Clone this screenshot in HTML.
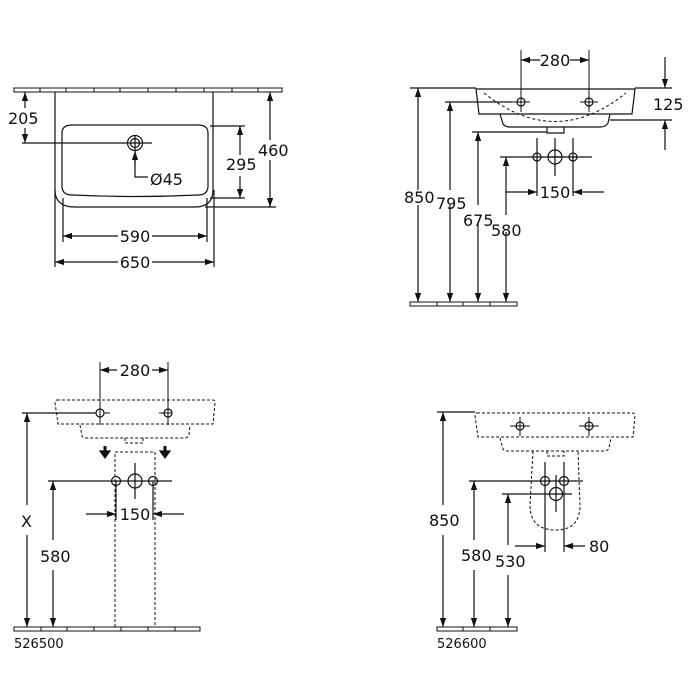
<!DOCTYPE html>
<html><head><meta charset="utf-8"><style>
html,body{margin:0;padding:0;background:#fff;width:700px;height:700px;overflow:hidden}
svg{display:block}
text{font-family:"DejaVu Sans","Liberation Sans",sans-serif;font-size:16px;fill:#111}
</style></head><body>
<svg width="700" height="700" viewBox="0 0 700 700" xmlns="http://www.w3.org/2000/svg">
<defs>
<marker id="a" viewBox="0 0 10 10" refX="10" refY="5" markerWidth="9" markerHeight="9" markerUnits="userSpaceOnUse" orient="auto-start-reverse"><path d="M0,1.5 L10,5 L0,8.5 z" fill="#111"/></marker>
</defs>
<g stroke="#111" stroke-width="1.2" fill="none">
<!-- ===== TOP LEFT ===== -->
<g stroke-width="1">
<rect x="14" y="88" width="268" height="4"/>
<path d="M40 88v4M66 88v4M94 88v4M120 88v4M148 88v4M176 88v4M204 88v4M232 88v4M258 88v4"/>
</g>
<path d="M55 92 V190 Q55 207 75 207 H195 Q213 207 213 190 V92"/>
<path d="M62 133 Q62 125 72 125 H198 Q208 125 208 133 V186 Q208 195 198 195 Q135 198 72 195 Q62 195 62 186 Z"/>
<circle cx="135" cy="143" r="7.5"/><circle cx="135" cy="143" r="4.5"/>
<path d="M22 143 H152 M135 136 V150"/>
<line x1="25" y1="108" x2="25" y2="92" marker-end="url(#a)"/>
<line x1="25" y1="128" x2="25" y2="143" marker-end="url(#a)"/>
<path d="M135 152 V177 H148"/><line x1="135" y1="165" x2="135" y2="151" marker-end="url(#a)"/>
<path d="M210 126 H245 M210 198 H245 M205 207 H276"/>
<line x1="240" y1="155" x2="240" y2="126" marker-end="url(#a)"/>
<line x1="240" y1="176" x2="240" y2="198" marker-end="url(#a)"/>
<line x1="270" y1="140" x2="270" y2="92" marker-end="url(#a)"/>
<line x1="270" y1="160" x2="270" y2="207" marker-end="url(#a)"/>
<path d="M63 198 V242 M207 198 V242 M55 190 V267 M214 190 V267"/>
<line x1="118" y1="236" x2="63" y2="236" marker-end="url(#a)"/>
<line x1="152" y1="236" x2="207" y2="236" marker-end="url(#a)"/>
<line x1="118" y1="262" x2="55" y2="262" marker-end="url(#a)"/>
<line x1="152" y1="262" x2="214" y2="262" marker-end="url(#a)"/>

<!-- ===== TOP RIGHT ===== -->
<g stroke-width="1">
<rect x="410" y="302" width="107" height="4"/>
<path d="M437 302v4M463 302v4M490 302v4"/>
</g>
<path d="M476 89 H635 L632 114 H479 Z"/>
<path d="M500 114 L503 124 Q505 127 510 127 H600 Q606 127 608 123 L610 114"/>
<path d="M547 127 V133 H564 V127"/>
<path d="M484 93 Q555 150 626 93" stroke-dasharray="3,2.5" stroke-width="1"/>
<circle cx="521" cy="102" r="4"/><circle cx="589" cy="102" r="4"/>
<path d="M512 102 H530 M580 102 H598 M521 50 V112 M589 50 V112" stroke-width="1"/>
<line x1="540" y1="60" x2="521" y2="60" marker-end="url(#a)"/>
<line x1="570" y1="60" x2="589" y2="60" marker-end="url(#a)"/>
<path d="M410 88 H476 M635 88 H672 M610 120 H672 M445 102 H512 M472 132 H547 M500 157 H592"/>
<line x1="665" y1="57" x2="665" y2="88" marker-end="url(#a)"/>
<line x1="665" y1="150" x2="665" y2="120" marker-end="url(#a)"/>
<line x1="418" y1="190" x2="418" y2="88" marker-end="url(#a)"/>
<line x1="418" y1="205" x2="418" y2="302" marker-end="url(#a)"/>
<line x1="450" y1="190" x2="450" y2="102" marker-end="url(#a)"/>
<line x1="450" y1="205" x2="450" y2="302" marker-end="url(#a)"/>
<line x1="478" y1="205" x2="478" y2="132" marker-end="url(#a)"/>
<line x1="478" y1="222" x2="478" y2="302" marker-end="url(#a)"/>
<line x1="506" y1="215" x2="506" y2="157" marker-end="url(#a)"/>
<line x1="506" y1="232" x2="506" y2="302" marker-end="url(#a)"/>
<circle cx="537" cy="157" r="4"/><circle cx="573" cy="157" r="4"/><circle cx="555" cy="157" r="7"/>
<path d="M555 138 V176 M549 157 H561 M537 138 V196 M573 138 V196"/>
<line x1="506" y1="192" x2="537" y2="192" marker-end="url(#a)"/>
<line x1="604" y1="192" x2="573" y2="192" marker-end="url(#a)"/>

<!-- ===== BOTTOM LEFT ===== -->
<g stroke-width="1">
<rect x="14" y="627" width="186" height="4"/>
<path d="M41 627v4M67 627v4M94 627v4M121 627v4M148 627v4M175 627v4"/>
</g>
<g stroke-dasharray="3,2" stroke-width="1">
<path d="M57 400 H213 Q215 400 215 403 L213 424 H58 L55 403 Q55 400 57 400 Z"/>
<path d="M80 425 L82 436 Q83 438 87 438 H184 Q188 438 189 435 L190 425"/>
<path d="M125 438 V443 H143 V438"/>
<path d="M115 627 V452 H155 V627"/>
</g>
<circle cx="100" cy="413" r="4"/><circle cx="168" cy="413" r="4"/>
<path d="M100 362 V425 M168 362 V425 M104 413 H110 M159 413 H172" stroke-width="1"/>
<line x1="117" y1="370" x2="100" y2="370" marker-end="url(#a)"/>
<line x1="152" y1="370" x2="168" y2="370" marker-end="url(#a)"/>
<path d="M22 413 H96"/>
<line x1="27" y1="505" x2="27" y2="413" marker-end="url(#a)"/>
<line x1="27" y1="535" x2="27" y2="627" marker-end="url(#a)"/>
<path d="M105 446 V451 M165 446 V451" stroke-width="3"/>
<path d="M100 451 L105 458 L110 451 Z M160 451 L165 458 L170 451 Z" fill="#111"/>
<circle cx="116" cy="481" r="4.5"/><circle cx="153" cy="481" r="4.5"/><circle cx="135" cy="481" r="7"/>
<path d="M48 481 H172 M135 463 V499 M116 481 V520 M153 481 V520"/>
<line x1="53" y1="540" x2="53" y2="481" marker-end="url(#a)"/>
<line x1="53" y1="570" x2="53" y2="627" marker-end="url(#a)"/>
<line x1="86" y1="514" x2="116" y2="514" marker-end="url(#a)"/>
<line x1="184" y1="514" x2="153" y2="514" marker-end="url(#a)"/>

<!-- ===== BOTTOM RIGHT ===== -->
<g stroke-width="1">
<rect x="437" y="627" width="80" height="4"/>
<path d="M463 627v4M490 627v4"/>
</g>
<g stroke-dasharray="3,2" stroke-width="1">
<path d="M477 413 H633 Q635 413 635 416 L633 437 H478 L475 416 Q475 413 477 413 Z"/>
<path d="M500 438 L503 449 Q504 451 508 451 H604 Q608 451 609 448 L611 438"/>
<path d="M547 451 V456 H564 V451"/>
<path d="M533 451 L530 505 Q530 530 556 530 Q580 530 580 505 L578 451"/>
</g>
<circle cx="520" cy="426" r="4"/><circle cx="589" cy="426" r="4"/>
<path d="M510 426 H530 M579 426 H599 M520 417 V436 M589 417 V436" stroke-width="1"/>
<path d="M437 412 H475"/>
<line x1="443" y1="505" x2="443" y2="412" marker-end="url(#a)"/>
<line x1="443" y1="535" x2="443" y2="627" marker-end="url(#a)"/>
<circle cx="545" cy="481" r="4.5"/><circle cx="564" cy="481" r="4.5"/><circle cx="556" cy="494" r="6.5"/>
<path d="M469 481 H583 M502 494 H572 M556 475 V512 M545 462 V552 M564 462 V552"/>
<line x1="474" y1="540" x2="474" y2="481" marker-end="url(#a)"/>
<line x1="474" y1="570" x2="474" y2="627" marker-end="url(#a)"/>
<line x1="508" y1="545" x2="508" y2="494" marker-end="url(#a)"/>
<line x1="508" y1="575" x2="508" y2="627" marker-end="url(#a)"/>
<line x1="515" y1="546" x2="545" y2="546" marker-end="url(#a)"/>
<line x1="585" y1="546" x2="564" y2="546" marker-end="url(#a)"/>
</g>

<g>
<text x="8" y="124">205</text>
<text x="258" y="156">460</text>
<text x="226" y="170">295</text>
<text x="150" y="185">Ø45</text>
<text x="135" y="242" text-anchor="middle">590</text>
<text x="135" y="268" text-anchor="middle">650</text>

<text x="555" y="66" text-anchor="middle">280</text>
<text x="653" y="110">125</text>
<text x="404" y="203">850</text>
<text x="436" y="209">795</text>
<text x="463" y="226">675</text>
<text x="491" y="236">580</text>
<text x="555" y="198" text-anchor="middle">150</text>

<text x="135" y="376" text-anchor="middle">280</text>
<text x="21" y="527">X</text>
<text x="40" y="562">580</text>
<text x="135" y="520" text-anchor="middle">150</text>
<text x="14" y="648" style="font-size:13px">526500</text>

<text x="429" y="526">850</text>
<text x="461" y="561">580</text>
<text x="495" y="567">530</text>
<text x="589" y="552">80</text>
<text x="437" y="648" style="font-size:13px">526600</text>
</g>
</svg>
</body></html>
